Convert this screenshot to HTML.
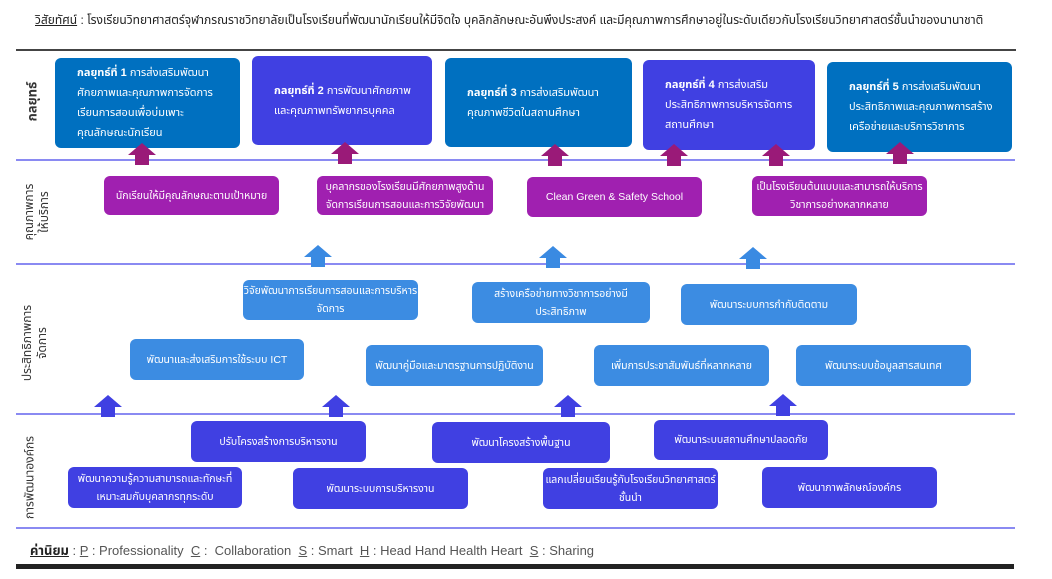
<!DOCTYPE html>
<html><head><meta charset="utf-8"><style>
body{margin:0;width:1052px;height:579px;background:#fff;position:relative;overflow:hidden;font-family:"Liberation Sans","Noto Sans Thai","Garuda","Loma",sans-serif;}
.b{position:absolute;color:#fff;border-radius:6px;font-size:10.5px;line-height:18px;display:flex;align-items:center;box-sizing:border-box;}
.c{justify-content:center;text-align:center;}
.s{position:absolute;color:#fff;border-radius:6px;box-sizing:border-box;padding:0 10px 0 22px;font-size:11px;line-height:20px;display:flex;align-items:center;}
.s>div{width:100%}
.l{position:absolute;left:16px;width:999px;height:2px;background:#8a8af2;}
.v{position:absolute;transform:rotate(-90deg);transform-origin:center;font-size:12px;color:#333;text-align:center;line-height:15px;white-space:nowrap;}
svg{position:absolute;left:0;top:0}
</style></head><body>
<div style="position:absolute;left:35px;top:12px;font-size:12px;color:#222;"><u>วิสัยทัศน์</u> : โรงเรียนวิทยาศาสตร์จุฬาภรณราชวิทยาลัยเป็นโรงเรียนที่พัฒนานักเรียนให้มีจิตใจ บุคลิกลักษณะอันพึงประสงค์ และมีคุณภาพการศึกษาอยู่ในระดับเดียวกับโรงเรียนวิทยาศาสตร์ชั้นนำของนานาชาติ</div>
<div style="position:absolute;left:16px;top:49px;width:1000px;height:2px;background:#444"></div>
<div class="l" style="top:159px"></div>
<div class="l" style="top:263px"></div>
<div class="l" style="top:413px"></div>
<div class="l" style="top:527px"></div>
<div style="position:absolute;left:16px;top:564px;width:998px;height:5px;background:#222"></div>

<div class="v" style="left:0px;top:94px;width:64px;font-size:13px;font-weight:bold">กลยุทธ์</div>
<div class="v" style="left:-5px;top:197px;width:84px">คุณภาพการ<br>ให้บริการ</div>
<div class="v" style="left:-22px;top:328px;width:114px">ประสิทธิภาพการ<br>จัดการ</div>
<div class="v" style="left:-15px;top:470px;width:90px">การพัฒนาองค์กร</div>

<div class="s" style="left:55px;top:58px;width:185px;height:90px;background:#0070c0"><div><b>กลยุทธ์ที่ 1</b> การส่งเสริมพัฒนา ศักยภาพและคุณภาพการจัดการเรียนการสอนเพื่อบ่มเพาะคุณลักษณะนักเรียน</div></div>
<div class="s" style="left:252px;top:56px;width:180px;height:89px;background:#4040e2"><div><b>กลยุทธ์ที่ 2</b> การพัฒนาศักยภาพและคุณภาพทรัพยากรบุคคล</div></div>
<div class="s" style="left:445px;top:58px;width:187px;height:89px;background:#0070c0"><div><b>กลยุทธ์ที่ 3</b> การส่งเสริมพัฒนาคุณภาพชีวิตในสถานศึกษา</div></div>
<div class="s" style="left:643px;top:60px;width:172px;height:90px;background:#4040e2"><div><b>กลยุทธ์ที่ 4</b> การส่งเสริมประสิทธิภาพการบริหารจัดการสถานศึกษา</div></div>
<div class="s" style="left:827px;top:62px;width:185px;height:90px;background:#0070c0"><div><b>กลยุทธ์ที่ 5</b> การส่งเสริมพัฒนาประสิทธิภาพและคุณภาพการสร้างเครือข่ายและบริการวิชาการ</div></div>

<div class="b c" style="left:104px;top:176px;width:175px;height:39px;background:#a020b0">นักเรียนให้มีคุณลักษณะตามเป้าหมาย</div>
<div class="b c" style="left:317px;top:176px;width:176px;height:39px;background:#a020b0">บุคลากรของโรงเรียนมีศักยภาพสูงด้านจัดการเรียนการสอนและการวิจัยพัฒนา</div>
<div class="b c" style="left:527px;top:177px;width:175px;height:40px;background:#a020b0">Clean Green &amp; Safety School</div>
<div class="b c" style="left:752px;top:176px;width:175px;height:40px;background:#a020b0">เป็นโรงเรียนต้นแบบและสามารถให้บริการวิชาการอย่างหลากหลาย</div>

<div class="b c" style="left:243px;top:280px;width:175px;height:40px;background:#3c8ce2">วิจัยพัฒนาการเรียนการสอนและการบริหารจัดการ</div>
<div class="b c" style="left:472px;top:282px;width:178px;height:41px;background:#3c8ce2">สร้างเครือข่ายทางวิชาการอย่างมีประสิทธิภาพ</div>
<div class="b c" style="left:681px;top:284px;width:176px;height:41px;background:#3c8ce2">พัฒนาระบบการกำกับติดตาม</div>
<div class="b c" style="left:130px;top:339px;width:174px;height:41px;background:#3c8ce2">พัฒนาและส่งเสริมการใช้ระบบ ICT</div>
<div class="b c" style="left:366px;top:345px;width:177px;height:41px;background:#3c8ce2">พัฒนาคู่มือและมาตรฐานการปฏิบัติงาน</div>
<div class="b c" style="left:594px;top:345px;width:175px;height:41px;background:#3c8ce2">เพิ่มการประชาสัมพันธ์ที่หลากหลาย</div>
<div class="b c" style="left:796px;top:345px;width:175px;height:41px;background:#3c8ce2">พัฒนาระบบข้อมูลสารสนเทศ</div>

<div class="b c" style="left:191px;top:421px;width:175px;height:41px;background:#4040e2">ปรับโครงสร้างการบริหารงาน</div>
<div class="b c" style="left:432px;top:422px;width:178px;height:41px;background:#4040e2">พัฒนาโครงสร้างพื้นฐาน</div>
<div class="b c" style="left:654px;top:420px;width:174px;height:40px;background:#4040e2">พัฒนาระบบสถานศึกษาปลอดภัย</div>
<div class="b c" style="left:68px;top:467px;width:174px;height:41px;background:#4040e2">พัฒนาความรู้ความสามารถและทักษะที่เหมาะสมกับบุคลากรทุกระดับ</div>
<div class="b c" style="left:293px;top:468px;width:175px;height:41px;background:#4040e2">พัฒนาระบบการบริหารงาน</div>
<div class="b c" style="left:543px;top:468px;width:175px;height:41px;background:#4040e2">แลกเปลี่ยนเรียนรู้กับโรงเรียนวิทยาศาสตร์ชั้นนำ</div>
<div class="b c" style="left:762px;top:467px;width:175px;height:41px;background:#4040e2">พัฒนาภาพลักษณ์องค์กร</div>

<svg width="1052" height="579">
<defs>
<g id="ar"><polygon points="-14,8 0,-4 14,8 7,8 7,18 -7,18 -7,8"/></g>
</defs>
<g fill="#9a1a78">
<use href="#ar" x="142" y="147"/><use href="#ar" x="345" y="146"/><use href="#ar" x="555" y="148"/><use href="#ar" x="674" y="148"/><use href="#ar" x="776" y="148"/><use href="#ar" x="900" y="146"/>
</g>
<g fill="#3a8ae2">
<use href="#ar" x="318" y="249"/><use href="#ar" x="553" y="250"/><use href="#ar" x="753" y="251"/>
</g>
<g fill="#4040e2">
<use href="#ar" x="108" y="399"/><use href="#ar" x="336" y="399"/><use href="#ar" x="568" y="399"/><use href="#ar" x="783" y="398"/>
</g>
</svg>

<div style="position:absolute;left:30px;top:541px;font-size:13px;color:#555;white-space:nowrap"><b style="color:#222"><u>ค่านิยม</u></b> : <u>P</u> : Professionality &nbsp;<u>C</u> : &nbsp;Collaboration &nbsp;<u>S</u> : Smart &nbsp;<u>H</u> : Head Hand Health Heart &nbsp;<u>S</u> : Sharing</div>
</body></html>
